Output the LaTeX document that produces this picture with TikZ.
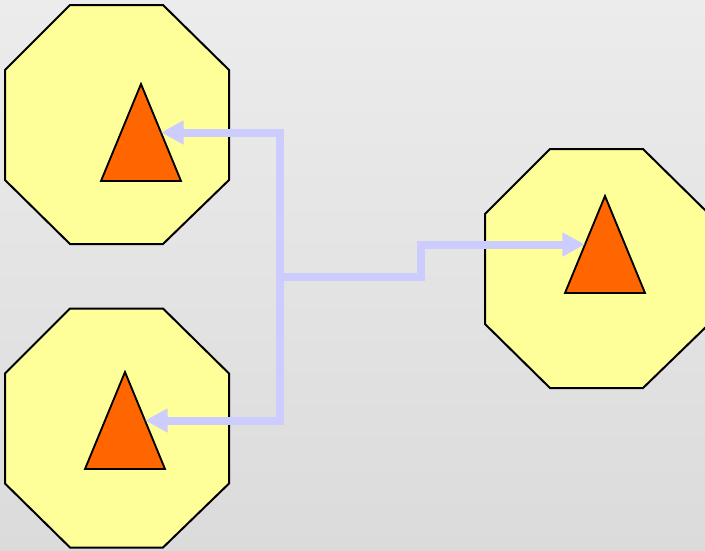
\documentclass[tikz,border=0pt]{standalone}
\usepackage{tikz}
\usetikzlibrary{arrows.meta,shapes.geometric}

\definecolor{bgtop}{RGB}{236,236,236}
\definecolor{bgbot}{RGB}{219,219,219}
\definecolor{padyellow}{RGB}{255,255,153}
\definecolor{markorange}{RGB}{255,102,0}
\definecolor{linkblue}{RGB}{204,204,255}

\begin{document}
\begin{tikzpicture}[x=0.75pt,y=-0.75pt,
  pad/.style={fill=padyellow,draw=black,line width=1.5pt,line join=miter},
  mark node/.style={isosceles triangle,isosceles triangle stretches,
    shape border rotate=90,minimum width=60pt,minimum height=72.75pt,
    inner sep=0pt,outer sep=0pt,anchor=apex,fill=markorange,draw=black,
    line width=1.4pt},
  link/.style={draw=linkblue,line width=6pt,
    -{Triangle[length=17pt,width=17pt]}}]

  % background
  \shade[top color=bgtop,bottom color=bgbot] (0,0) rectangle (705,550);
  \useasboundingbox (0,0) rectangle (705,550);

  % octagon pads
  \foreach \cx/\cy in {117/124.5, 117/428, 597/268.5}
    \draw[pad] (\cx-47,\cy-119.5) -- (\cx+46,\cy-119.5) -- (\cx+112,\cy-54.5)
      -- (\cx+112,\cy+55.5) -- (\cx+46,\cy+119.5) -- (\cx-47,\cy+119.5)
      -- (\cx-112,\cy+55.5) -- (\cx-112,\cy-54.5) -- cycle;

  % triangle marks, placed by their apex
  \node[mark node] (top) at (141,84) {};
  \node[mark node] (low) at (125,372) {};
  \node[mark node] (far) at (605,196) {};

  % links from the hub
  \coordinate (hub) at (280,277);
  \coordinate (kink) at (421,277);

  \path[link] (hub) |- (top.right side);
  \path[link] (hub) |- (low.right side);
  \path[link] (hub) -- (kink) |- (far.left side);

\end{tikzpicture}
\end{document}
